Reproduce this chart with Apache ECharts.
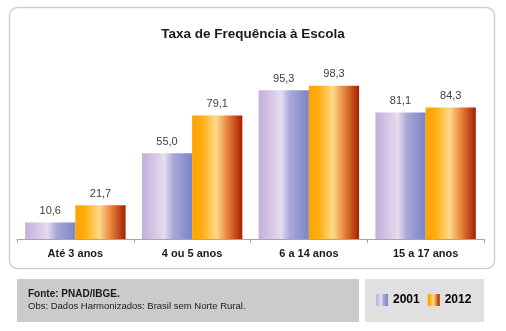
<!DOCTYPE html>
<html>
<head>
<meta charset="utf-8">
<script src="https://cdn.jsdelivr.net/npm/echarts@6/dist/echarts.min.js"></script>
<style>
html,body{margin:0;padding:0;background:#fff;}
#chart{width:506px;height:331px;}
</style>
</head>
<body>
<div id="chart"></div>
<script>
const categories = ['Até 3 anos', '4 ou 5 anos', '6 a 14 anos', '15 a 17 anos'];
const values2001 = [10.6, 55.0, 95.3, 81.1];
const values2012 = [21.7, 79.1, 98.3, 84.3];
const seriesNames = ['2001', '2012'];

const FONT = '"Liberation Sans", Arial, sans-serif';
const grad2001 = new echarts.graphic.LinearGradient(0, 0, 1, 0, [
  {offset: 0, color: '#c2aedb'},
  {offset: 0.45, color: '#e6dcef'},
  {offset: 0.62, color: '#a9a8d8'},
  {offset: 1, color: '#7b84c5'}
]);
const grad2012 = new echarts.graphic.LinearGradient(0, 0, 1, 0, [
  {offset: 0, color: '#ffa200'},
  {offset: 0.2, color: '#ffae10'},
  {offset: 0.48, color: '#ffd98c'},
  {offset: 0.7, color: '#e8863c'},
  {offset: 1, color: '#a61e00'}
]);
const fmt = p => p.value.toFixed(1).replace('.', ',');

const chart = echarts.init(document.getElementById('chart'), null, {renderer: 'canvas'});
chart.setOption({
  animation: false,
  backgroundColor: '#fff',
  title: {
    text: 'Taxa de Frequência à Escola',
    left: 'center', top: 22,
    textStyle: {fontFamily: FONT, fontSize: 13.5, fontWeight: 'bold', color: '#1a1a1a'}
  },
  legend: {
    data: seriesNames,
    left: 376, top: 294, padding: 0,
    itemWidth: 12, itemHeight: 12, itemGap: 8,
    icon: 'rect',
    textStyle: {fontFamily: FONT, fontSize: 12, fontWeight: 'bold', color: '#000'}
  },
  grid: {left: 17, right: 22, top: 83, bottom: 92},
  xAxis: {
    type: 'category',
    data: categories,
    axisLine: {lineStyle: {color: '#a6a6a6', width: 1}},
    axisTick: {show: true, length: 4, lineStyle: {color: '#a6a6a6'}},
    axisLabel: {fontFamily: FONT, fontSize: 11, fontWeight: 'bold', color: '#1a1a1a', margin: 9}
  },
  yAxis: {type: 'value', min: 0, max: 100, show: false, splitLine: {show: false}},
  series: [
    {
      name: seriesNames[0], type: 'bar', data: values2001,
      barGap: '0%', barCategoryGap: '14%',
      itemStyle: {color: grad2001},
      label: {show: true, position: 'top', distance: 6, formatter: fmt,
        fontFamily: FONT, fontSize: 11, color: '#404040'}
    },
    {
      name: seriesNames[1], type: 'bar', data: values2012,
      barGap: '0%', barCategoryGap: '14%',
      itemStyle: {color: grad2012},
      label: {show: true, position: 'top', distance: 6, formatter: fmt,
        fontFamily: FONT, fontSize: 11, color: '#404040'}
    }
  ],
  graphic: [
    {type: 'rect', z: -10, shape: {x: 9.5, y: 7.5, width: 485, height: 261, r: 8},
      style: {fill: '#fff', stroke: '#d0d0d0', lineWidth: 1.5}},
    {type: 'rect', z: -10, shape: {x: 17, y: 279, width: 342, height: 43},
      style: {fill: '#cbcbcb'}},
    {type: 'rect', z: -10, shape: {x: 365, y: 279, width: 119, height: 43},
      style: {fill: '#e0e0e0'}},
    {type: 'text', left: 28, top: 289,
      style: {text: 'Fonte: PNAD/IBGE.', font: 'bold 10px ' + FONT, fill: '#1a1a1a'}},
    {type: 'text', left: 28, top: 301,
      style: {text: 'Obs: Dados Harmonizados: Brasil sem Norte Rural.', font: '9.5px ' + FONT, fill: '#1a1a1a'}}
  ]
});
</script>
</body>
</html>
